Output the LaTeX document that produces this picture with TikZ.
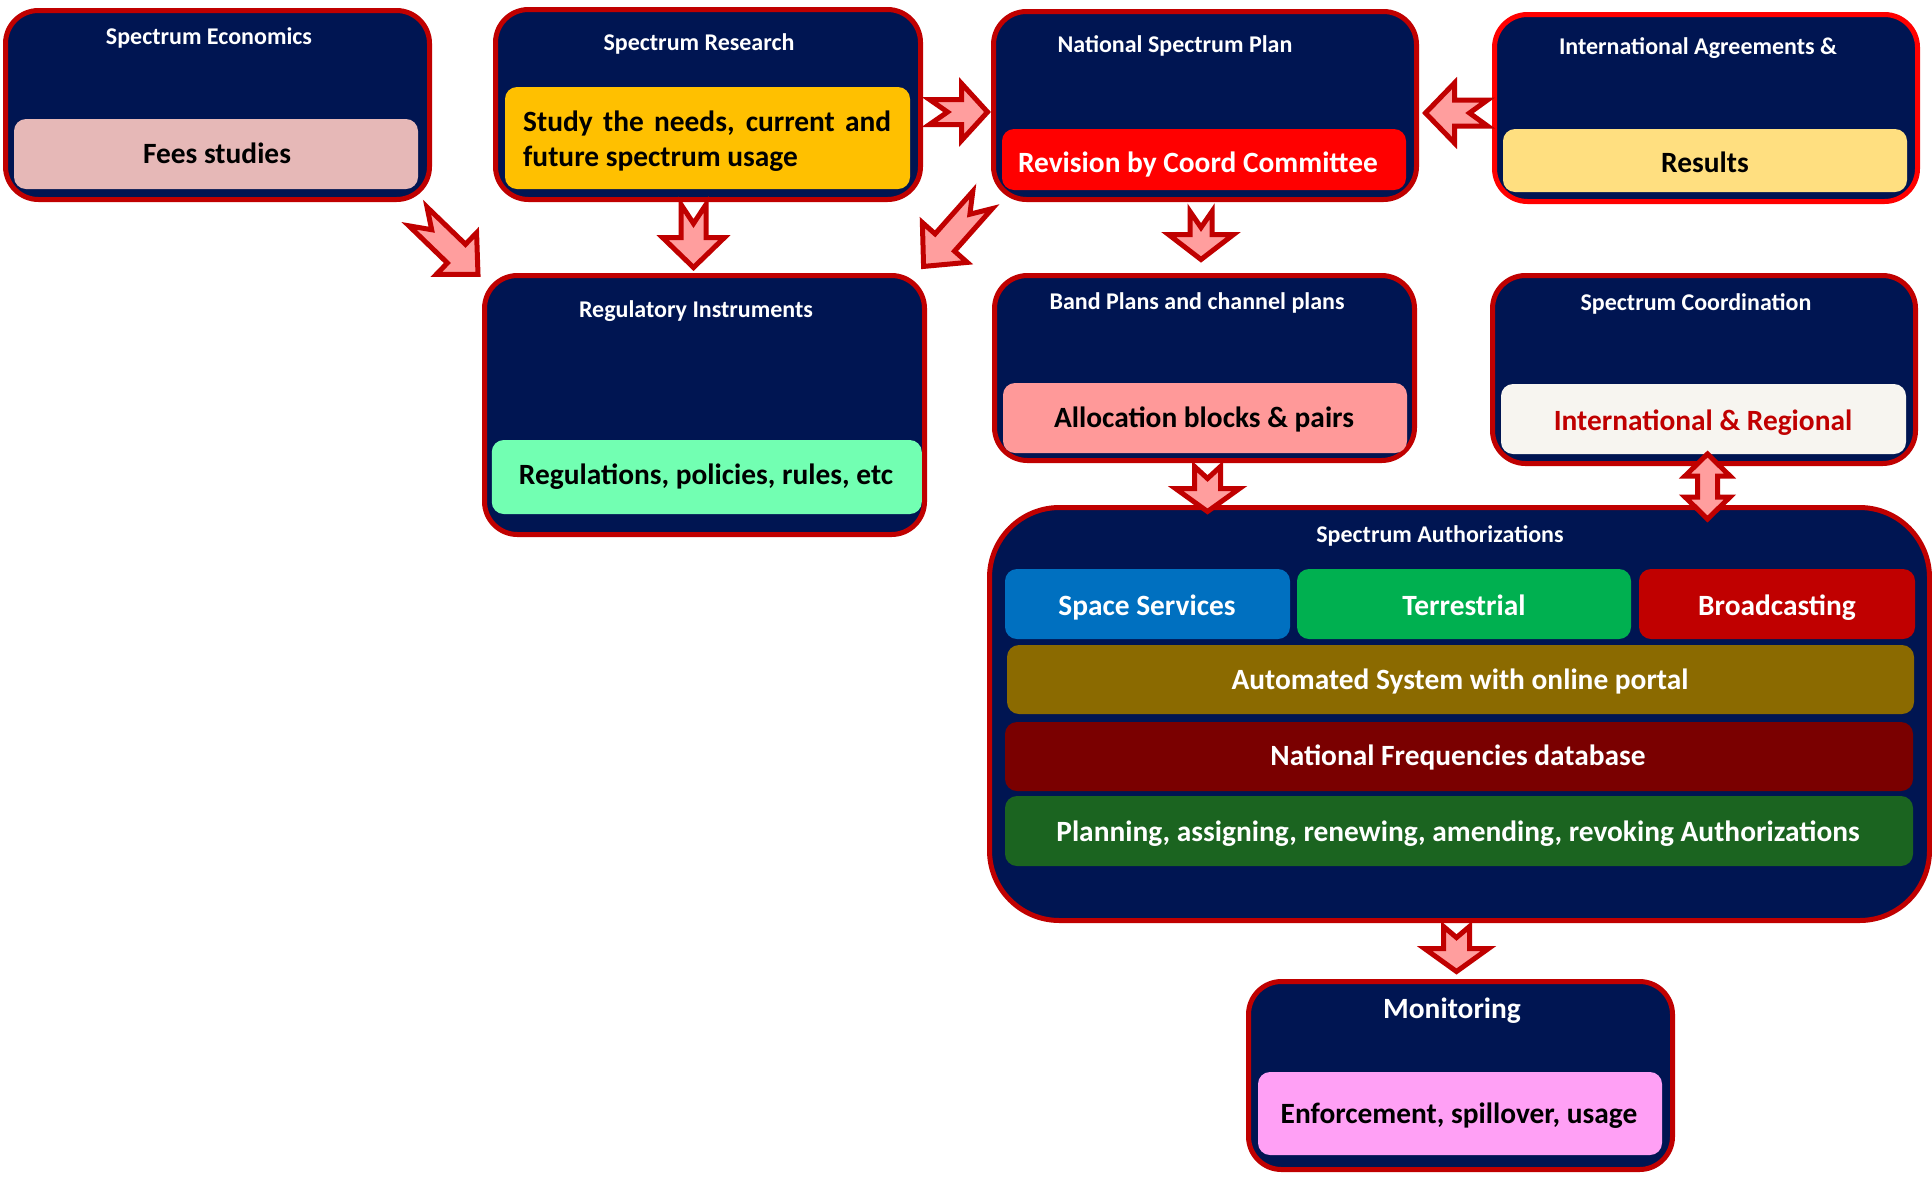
\documentclass[tikz,border=0pt]{standalone}
\usepackage{fontspec}
\setmainfont{Carlito}
\usetikzlibrary{calc}

\definecolor{panelblue}{RGB}{0,21,82}
\definecolor{edgered}{RGB}{192,0,0}
\definecolor{brightred}{RGB}{255,0,0}
\definecolor{arrowpink}{RGB}{255,158,158}
\definecolor{feespink}{RGB}{230,184,183}
\definecolor{studyamber}{RGB}{255,192,0}
\definecolor{resultsyellow}{RGB}{255,223,128}
\definecolor{regsgreen}{RGB}{114,255,178}
\definecolor{allocpink}{RGB}{255,153,153}
\definecolor{offwhite}{RGB}{247,245,240}
\definecolor{spaceblue}{RGB}{0,112,192}
\definecolor{terrgreen}{RGB}{0,176,80}
\definecolor{autoolive}{RGB}{139,106,0}
\definecolor{dbmaroon}{RGB}{122,0,0}
\definecolor{plangreen}{RGB}{27,100,32}
\definecolor{enfpink}{RGB}{255,160,245}

% notched block arrow from #1 (tail) to #2 (tip):
% #3 head width, #4 shaft width, #5 head length, #6 notch depth
\newcommand\blockarrow[6]{%
  \path let \p1=(#1), \p2=(#2) in \pgfextra{%
    \pgfmathsetmacro\baang{atan2(\y2-\y1,\x2-\x1)}%
    \pgfmathsetmacro\balen{veclen(\x2-\x1,\y2-\y1)}%
    \xdef\baang{\baang}\xdef\balen{\balen}};
  \draw[blockarr, shift={(#1)}, rotate=\baang]
    (0,#4/2) -- (\balen-#5,#4/2) -- (\balen-#5,#3/2) -- (\balen,0)
    -- (\balen-#5,-#3/2) -- (\balen-#5,-#4/2) -- (0,-#4/2) -- (#6,0) -- cycle;
}
% two-headed block arrow between #1 and #2: #3 head width, #4 shaft width, #5 head length
\newcommand\twinarrow[5]{%
  \path let \p1=(#1), \p2=(#2) in \pgfextra{%
    \pgfmathsetmacro\baang{atan2(\y2-\y1,\x2-\x1)}%
    \pgfmathsetmacro\balen{veclen(\x2-\x1,\y2-\y1)}%
    \xdef\baang{\baang}\xdef\balen{\balen}};
  \draw[blockarr, shift={(#1)}, rotate=\baang]
    (0,0) -- (#5,#3/2) -- (#5,#4/2) -- (\balen-#5,#4/2) -- (\balen-#5,#3/2)
    -- (\balen,0) -- (\balen-#5,-#3/2) -- (\balen-#5,-#4/2) -- (#5,-#4/2)
    -- (#5,-#3/2) -- cycle;
}

\begin{document}
\begin{tikzpicture}[x=1pt,y=-1pt,
  panel/.style={draw=edgered, fill=panelblue, line width=5pt, rounded corners=33pt, inner sep=0pt},
  slab/.style={fill=#1, rounded corners=12pt, inner sep=0pt},
  headtxt/.style={text=white, font=\bfseries\fontsize{24}{28}\selectfont, anchor=base, inner sep=0pt},
  labtxt/.style={text=#1, font=\bfseries\fontsize{29.4}{35}\selectfont, anchor=base, inner sep=0pt},
  blockarr/.style={fill=arrowpink, draw=edgered, line width=5pt, line join=miter, miter limit=10}]

\useasboundingbox[fill=white] (0,0) rectangle (1932,1176);

% ---- outer panels
\node[panel, minimum width=424pt, minimum height=189pt] (econ) at (217.5,105) {};
\node[panel, minimum width=425pt, minimum height=190pt] (research) at (708,104.5) {};
\node[panel, minimum width=423pt, minimum height=188pt] (nsp) at (1205,105.5) {};
\node[panel, draw=brightred, minimum width=423pt, minimum height=187pt] (intl) at (1706,108) {};
\node[panel, minimum width=440pt, minimum height=259pt] (reg) at (704.5,405) {};
\node[panel, minimum width=420pt, minimum height=185pt] (band) at (1204.5,368) {};
\node[panel, minimum width=423pt, minimum height=188pt] (coord) at (1704,369.5) {};
\node[panel, rounded corners=70pt, minimum width=940pt, minimum height=413pt] (auth) at (1459.5,714) {};
\node[panel, minimum width=424pt, minimum height=188pt] (mon) at (1460.5,1075.5) {};

% ---- coloured slabs inside the panels
\node[slab=feespink, minimum width=404pt, minimum height=70pt] (fees) at (216,154) {};
\node[slab=studyamber, minimum width=405pt, minimum height=102pt] (study) at (707.5,138) {};
\node[slab=brightred, minimum width=404pt, minimum height=61pt] (revision) at (1204,159.5) {};
\node[slab=resultsyellow, minimum width=404pt, minimum height=63pt] (results) at (1705,160.5) {};
\node[slab=regsgreen, minimum width=430pt, minimum height=74pt] (regs) at (706.75,477) {};
\node[slab=allocpink, minimum width=404pt, minimum height=70pt] (alloc) at (1205,418) {};
\node[slab=offwhite, minimum width=405pt, minimum height=70pt] (intreg) at (1703.5,419) {};
\node[slab=spaceblue, minimum width=285pt, minimum height=70pt] (space) at (1147.5,604) {};
\node[slab=terrgreen, minimum width=334pt, minimum height=70pt] (terr) at (1464,604) {};
\node[slab=edgered, minimum width=276pt, minimum height=70pt] (broad) at (1777,604) {};
\node[slab=autoolive, minimum width=907pt, minimum height=69pt] (auto) at (1460.5,679.5) {};
\node[slab=dbmaroon, minimum width=908pt, minimum height=69pt] (natdb) at (1459,756.5) {};
\node[slab=plangreen, minimum width=908pt, minimum height=70pt] (plan) at (1459,831) {};
\node[slab=enfpink, minimum width=404pt, minimum height=83pt] (enf) at (1460,1113.5) {};

% ---- panel titles
\node[headtxt] (econT) at (209,44) {Spectrum Economics};
\node[headtxt] (researchT) at (699,50) {Spectrum Research};
\node[headtxt] (nspT) at (1175,52) {National Spectrum Plan};
\node[headtxt] (intlT) at (1698,54) {International Agreements \&};
\node[headtxt] (regT) at (696,317) {Regulatory Instruments};
\node[headtxt] (bandT) at (1197,309) {Band Plans and channel plans};
\node[headtxt] (coordT) at (1696,310) {Spectrum Coordination};
\node[headtxt] (authT) at (1440,542) {Spectrum Authorizations};
\node[labtxt=white] (monT) at (1452,1018) {Monitoring};

% ---- slab texts
\node[labtxt=black] (feesT) at (217,163) {Fees studies};
\node[labtxt=black, anchor=base west] (studyT) at (523,131)
  {\vtop{\baselineskip=35pt\hbox{\makebox[368pt][s]{Study the needs, current and}}\hbox{future spectrum usage}}};
\node[labtxt=white] (revisionT) at (1198,172) {Revision by Coord Committee};
\node[labtxt=black] (resultsT) at (1705,172) {Results};
\node[labtxt=black] (regsT) at (706,484) {Regulations, policies, rules, etc};
\node[labtxt=black] (allocT) at (1204,427) {Allocation blocks \& pairs};
\node[labtxt=edgered] (intregT) at (1703,430) {International \& Regional};
\node[labtxt=white] (spaceT) at (1147,615) {Space Services};
\node[labtxt=white] (terrT) at (1464,615) {Terrestrial};
\node[labtxt=white] (broadT) at (1777,615) {Broadcasting};
\node[labtxt=white] (autoT) at (1460,689) {Automated System with online portal};
\node[labtxt=white] (natdbT) at (1458,765) {National Frequencies database};
\node[labtxt=white] (planT) at (1458,841) {Planning, assigning, renewing, amending, revoking Authorizations};
\node[labtxt=black] (enfT) at (1459,1123) {Enforcement, spillover, usage};

% ---- arrow end points
\coordinate (econOut) at (418,216.5);   \coordinate (regInA) at (478,274.5);
\coordinate (resOut) at (693.5,204.5);  \coordinate (regInB) at (693.5,267.5);
\coordinate (nspOutA) at (982.5,200);   \coordinate (regInC) at (923.5,266.5);
\coordinate (resOutR) at (929.5,112);   \coordinate (nspInL) at (987.5,112);
\coordinate (intlOut) at (1487.5,113);  \coordinate (nspInR) at (1425.5,113);
\coordinate (nspOutB) at (1201,211.5);  \coordinate (bandIn) at (1201,259.5);
\coordinate (bandOut) at (1207.5,466.5);\coordinate (authIn) at (1207.5,511.5);
\coordinate (authOut) at (1456.5,926.5);\coordinate (monIn) at (1456.5,971.5);
\coordinate (coordEnd) at (1707.5,454); \coordinate (authEnd) at (1707.5,519);

% ---- block arrows
\blockarrow{econOut}{regInA}{58}{26}{30}{19}
\blockarrow{resOut}{regInB}{62}{25}{30}{19}
\blockarrow{nspOutA}{regInC}{60}{26}{32}{19}
\blockarrow{resOutR}{nspInL}{57}{25}{26}{18}
\blockarrow{intlOut}{nspInR}{60}{26}{29}{18}
\blockarrow{nspOutB}{bandIn}{65}{22}{25}{16}
\blockarrow{bandOut}{authIn}{64}{26}{23}{12}
\blockarrow{authOut}{monIn}{64}{26}{23}{11}
\twinarrow{coordEnd}{authEnd}{45}{20}{22}

\end{tikzpicture}
\end{document}
